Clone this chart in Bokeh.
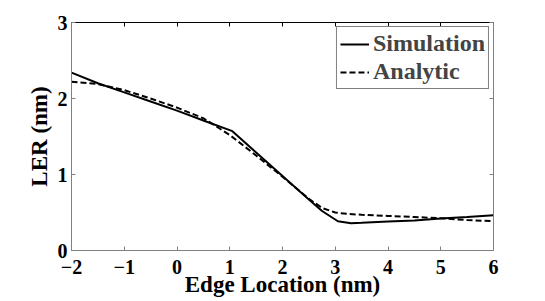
from bokeh.plotting import figure
from bokeh.models import Range1d, FixedTicker, LinearAxis, Legend, LegendItem
from bokeh.embed import file_html
from bokeh.resources import INLINE

# Data
sim_x = [-2, -1.5, -1, -0.5, 0, 0.5, 1.05, 1.5, 2, 2.5, 2.75, 3.05, 3.3, 3.5, 4, 4.5, 5, 5.5, 6]
sim_y = [2.34, 2.20, 2.08, 1.96, 1.84, 1.71, 1.57, 1.29, 0.98, 0.67, 0.52, 0.385, 0.36, 0.365, 0.38, 0.395, 0.42, 0.44, 0.465]

ana_x = [-2, -1.5, -1, -0.5, 0, 0.5, 1, 1.5, 2, 2.5, 2.75, 3, 3.25, 3.5, 4, 4.5, 5, 5.5, 6]
ana_y = [2.22, 2.19, 2.11, 2.00, 1.88, 1.74, 1.52, 1.25, 0.97, 0.68, 0.56, 0.50, 0.48, 0.47, 0.455, 0.44, 0.425, 0.40, 0.385]

x_ticks = [-2, -1, 0, 1, 2, 3, 4, 5, 6]
x_tick_labels = ["\u22122", "\u22121", "0", "1", "2", "3", "4", "5", "6"]
y_ticks = [0, 1, 2, 3]
y_tick_labels = ["0", "1", "2", "3"]

FONT = "'Liberation Serif'"

p = figure(width=545, height=301, output_backend="svg", toolbar_location=None,
           x_range=Range1d(-2, 6), y_range=Range1d(0, 3),
           min_border_left=71, min_border_right=52, min_border_top=22, min_border_bottom=51)
p.background_fill_color = "white"
p.border_fill_color = "white"
p.outline_line_color = None
p.xgrid.visible = False
p.ygrid.visible = False

def style_axis(ax, ticks, labels, show_labels=True, color="#808080"):
    ax.ticker = FixedTicker(ticks=ticks)
    ax.major_label_overrides = {t: l for t, l in zip(ticks, labels)} if show_labels else {t: "" for t in ticks}
    ax.major_tick_in = 4
    ax.major_tick_out = 0
    ax.minor_tick_line_color = None
    ax.axis_line_color = color
    ax.major_tick_line_color = color
    ax.major_label_text_font = FONT
    ax.major_label_text_font_style = "bold"
    ax.major_label_text_font_size = "20px"
    ax.major_label_text_color = "black"
    ax.axis_label_text_font = FONT
    ax.axis_label_text_font_style = "bold"
    ax.axis_label_text_font_size = "23px"
    ax.axis_label_text_color = "black"

xa = p.xaxis[0]
style_axis(xa, x_ticks, x_tick_labels)
xa.axis_label = "Edge Location (nm)"
xa.major_label_standoff = 9
xa.axis_label_standoff = -5

ya = p.yaxis[0]
style_axis(ya, y_ticks, y_tick_labels)
ya.axis_label = "LER (nm)"
ya.major_label_standoff = 4
ya.axis_label_standoff = 3

top = LinearAxis()
style_axis(top, x_ticks, x_tick_labels, show_labels=False, color="black")
top.major_label_text_font_size = "1px"
top.major_label_standoff = 0
p.add_layout(top, "above")

right = LinearAxis()
style_axis(right, y_ticks, y_tick_labels, show_labels=False)
right.major_label_text_font_size = "1px"
right.major_label_standoff = 0
p.add_layout(right, "right")

r_sim = p.line(sim_x, sim_y, line_color="black", line_width=2)
r_ana = p.line(ana_x, ana_y, line_color="black", line_width=2, line_dash="6 3")

legend = Legend(items=[LegendItem(label="Simulation", renderers=[r_sim]),
                       LegendItem(label="Analytic", renderers=[r_ana])],
                location="top_right")
legend.margin = 4
legend.padding = 3
legend.spacing = 1
legend.glyph_width = 29
legend.label_standoff = 4
legend.label_text_font = FONT
legend.label_text_font_style = "bold"
legend.label_text_font_size = "24px"
legend.border_line_color = "black"
legend.border_line_width = 1
legend.background_fill_alpha = 1
p.add_layout(legend)

open("out.html", "w").write(file_html(p, INLINE))
